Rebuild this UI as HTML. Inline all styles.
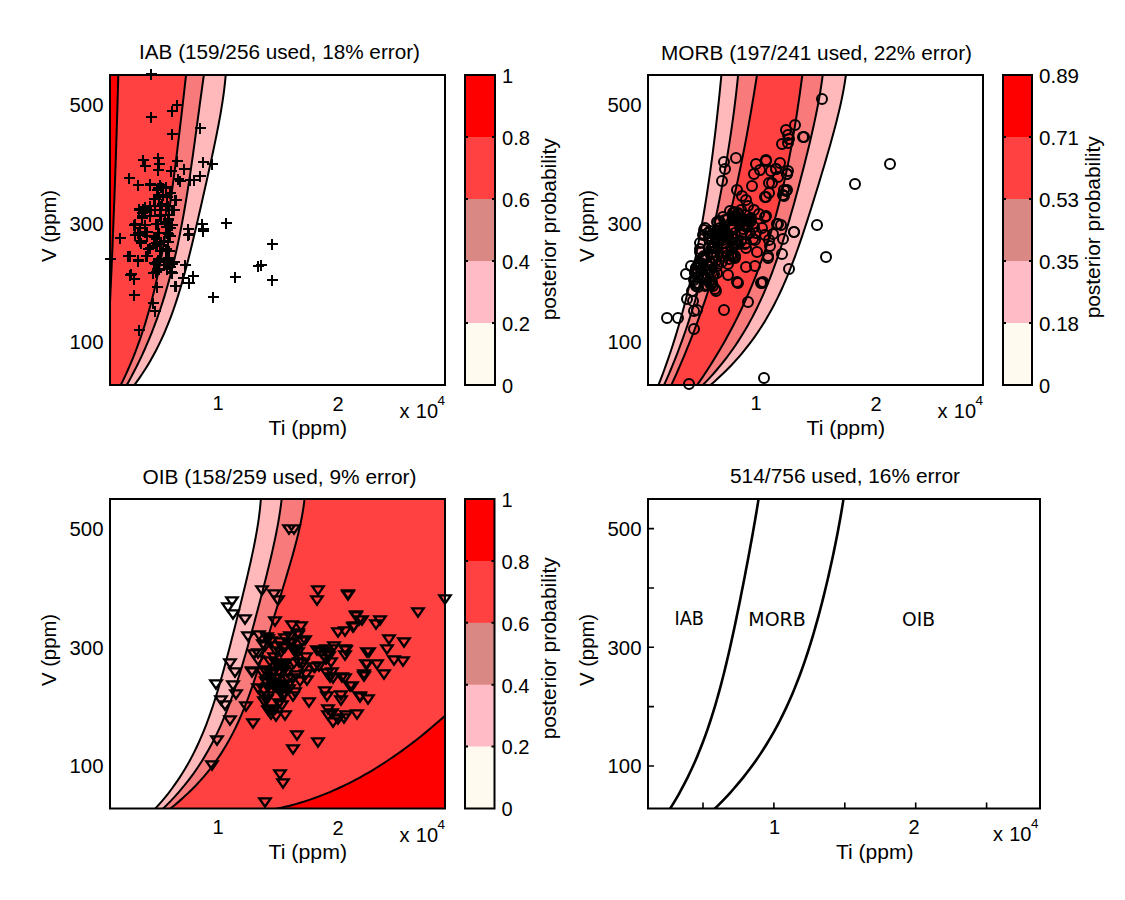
<!DOCTYPE html><html><head><meta charset="utf-8"><style>html,body{margin:0;padding:0;background:#fff;}svg{display:block}text{font-family:"Liberation Sans",Arial,sans-serif;font-size:20px;fill:#000}</style></head><body>
<svg width="1125" height="900" viewBox="0 0 1125 900">
<rect width="1125" height="900" fill="#fff"/>
<defs>
<clipPath id="c1"><rect x="110" y="75" width="335" height="310"/></clipPath>
<clipPath id="c2"><rect x="648" y="75" width="335" height="310"/></clipPath>
<clipPath id="c3"><rect x="110" y="499" width="335" height="309.5"/></clipPath>
<clipPath id="c4"><rect x="648" y="499" width="392" height="309.5"/></clipPath>
</defs>
<g clip-path="url(#c1)">
<rect x="110" y="75" width="335" height="310" fill="#fff"/>
<polygon points="90.00,70.00 226.08,70.00 225.79,74.05 225.44,78.10 225.04,82.15 224.60,86.20 224.11,90.25 223.57,94.30 223.00,98.35 222.40,102.41 221.76,106.46 221.09,110.51 220.39,114.56 219.66,118.61 218.92,122.66 218.15,126.71 217.36,130.76 216.56,134.81 215.74,138.86 214.90,142.91 214.06,146.96 213.20,151.01 212.33,155.06 211.46,159.11 210.58,163.16 209.69,167.22 208.79,171.27 207.90,175.32 206.99,179.37 206.09,183.42 205.18,187.47 204.27,191.52 203.35,195.57 202.43,199.62 201.51,203.67 200.59,207.72 199.66,211.77 198.74,215.82 197.80,219.87 196.86,223.92 195.92,227.97 194.97,232.03 194.01,236.08 193.04,240.13 192.07,244.18 191.08,248.23 190.08,252.28 189.07,256.33 188.04,260.38 186.99,264.43 185.92,268.48 184.83,272.53 183.72,276.58 182.58,280.63 181.42,284.68 180.22,288.73 178.99,292.78 177.72,296.84 176.41,300.89 175.07,304.94 173.67,308.99 172.23,313.04 170.74,317.09 169.19,321.14 167.58,325.19 165.91,329.24 164.18,333.29 162.37,337.34 160.49,341.39 158.54,345.44 156.50,349.49 154.37,353.54 152.16,357.59 149.84,361.65 147.43,365.70 144.91,369.75 142.29,373.80 139.54,377.85 136.68,381.90 133.69,385.95 130.57,390.00 90.00,390.00" fill="#ffb9ba"/>
<polygon points="90.00,70.00 204.60,70.00 204.02,74.05 203.44,78.10 202.87,82.15 202.30,86.20 201.74,90.25 201.18,94.30 200.62,98.35 200.07,102.41 199.52,106.46 198.97,110.51 198.42,114.56 197.87,118.61 197.33,122.66 196.78,126.71 196.23,130.76 195.68,134.81 195.13,138.86 194.58,142.91 194.02,146.96 193.46,151.01 192.90,155.06 192.32,159.11 191.75,163.16 191.16,167.22 190.57,171.27 189.97,175.32 189.37,179.37 188.75,183.42 188.12,187.47 187.48,191.52 186.83,195.57 186.17,199.62 185.49,203.67 184.80,207.72 184.10,211.77 183.38,215.82 182.64,219.87 181.88,223.92 181.11,227.97 180.31,232.03 179.50,236.08 178.67,240.13 177.81,244.18 176.93,248.23 176.03,252.28 175.10,256.33 174.15,260.38 173.17,264.43 172.16,268.48 171.13,272.53 170.06,276.58 168.97,280.63 167.84,284.68 166.68,288.73 165.49,292.78 164.26,296.84 163.00,300.89 161.69,304.94 160.36,308.99 158.98,313.04 157.56,317.09 156.10,321.14 154.60,325.19 153.05,329.24 151.46,333.29 149.83,337.34 148.15,341.39 146.42,345.44 144.64,349.49 142.80,353.54 140.92,357.59 138.99,361.65 137.00,365.70 134.95,369.75 132.85,373.80 130.69,377.85 128.47,381.90 126.18,385.95 123.84,390.00 90.00,390.00" fill="#f87a7a"/>
<polygon points="90.00,70.00 186.58,70.00 186.14,74.05 185.69,78.10 185.24,82.15 184.79,86.20 184.33,90.25 183.87,94.30 183.41,98.35 182.95,102.41 182.48,106.46 182.01,110.51 181.54,114.56 181.06,118.61 180.58,122.66 180.10,126.71 179.62,130.76 179.13,134.81 178.64,138.86 178.15,142.91 177.66,146.96 177.16,151.01 176.65,155.06 176.14,159.11 175.63,163.16 175.12,167.22 174.59,171.27 174.07,175.32 173.53,179.37 172.99,183.42 172.45,187.47 171.89,191.52 171.33,195.57 170.76,199.62 170.18,203.67 169.59,207.72 168.99,211.77 168.38,215.82 167.76,219.87 167.13,223.92 166.48,227.97 165.82,232.03 165.14,236.08 164.45,240.13 163.75,244.18 163.02,248.23 162.28,252.28 161.52,256.33 160.74,260.38 159.94,264.43 159.11,268.48 158.27,272.53 157.40,276.58 156.50,280.63 155.58,284.68 154.63,288.73 153.66,292.78 152.65,296.84 151.62,300.89 150.55,304.94 149.44,308.99 148.31,313.04 147.13,317.09 145.92,321.14 144.68,325.19 143.39,329.24 142.06,333.29 140.68,337.34 139.26,341.39 137.80,345.44 136.29,349.49 134.73,353.54 133.12,357.59 131.46,361.65 129.74,365.70 127.97,369.75 126.14,373.80 124.25,377.85 122.30,381.90 120.29,385.95 118.21,390.00 90.00,390.00" fill="#ff4141"/>
<polygon points="90.00,70.00 118.42,70.00 118.32,74.05 118.21,78.10 118.10,82.15 117.99,86.20 117.88,90.25 117.77,94.30 117.65,98.35 117.54,102.41 117.42,106.46 117.30,110.51 117.18,114.56 117.06,118.61 116.94,122.66 116.81,126.71 116.68,130.76 116.56,134.81 116.43,138.86 116.30,142.91 116.17,146.96 116.03,151.01 115.90,155.06 115.76,159.11 115.62,163.16 115.48,167.22 115.34,171.27 115.20,175.32 115.06,179.37 114.91,183.42 114.77,187.47 114.62,191.52 114.47,195.57 114.32,199.62 114.17,203.67 114.01,207.72 113.86,211.77 113.70,215.82 113.54,219.87 113.38,223.92 113.22,227.97 113.06,232.03 112.90,236.08 112.73,240.13 112.57,244.18 112.40,248.23 112.23,252.28 112.06,256.33 111.88,260.38 111.71,264.43 111.53,268.48 111.36,272.53 111.18,276.58 111.00,280.63 110.82,284.68 110.64,288.73 110.45,292.78 110.27,296.84 110.08,300.89 109.89,304.94 109.70,308.99 109.51,313.04 109.32,317.09 109.12,321.14 108.93,325.19 108.73,329.24 108.53,333.29 108.33,337.34 108.13,341.39 107.93,345.44 107.72,349.49 107.51,353.54 107.31,357.59 107.10,361.65 106.89,365.70 106.68,369.75 106.46,373.80 106.25,377.85 106.03,381.90 105.81,385.95 105.60,390.00 90.00,390.00" fill="#ff0000"/>
<polyline points="118.42,70.00 118.32,74.05 118.21,78.10 118.10,82.15 117.99,86.20 117.88,90.25 117.77,94.30 117.65,98.35 117.54,102.41 117.42,106.46 117.30,110.51 117.18,114.56 117.06,118.61 116.94,122.66 116.81,126.71 116.68,130.76 116.56,134.81 116.43,138.86 116.30,142.91 116.17,146.96 116.03,151.01 115.90,155.06 115.76,159.11 115.62,163.16 115.48,167.22 115.34,171.27 115.20,175.32 115.06,179.37 114.91,183.42 114.77,187.47 114.62,191.52 114.47,195.57 114.32,199.62 114.17,203.67 114.01,207.72 113.86,211.77 113.70,215.82 113.54,219.87 113.38,223.92 113.22,227.97 113.06,232.03 112.90,236.08 112.73,240.13 112.57,244.18 112.40,248.23 112.23,252.28 112.06,256.33 111.88,260.38 111.71,264.43 111.53,268.48 111.36,272.53 111.18,276.58 111.00,280.63 110.82,284.68 110.64,288.73 110.45,292.78 110.27,296.84 110.08,300.89 109.89,304.94 109.70,308.99 109.51,313.04 109.32,317.09 109.12,321.14 108.93,325.19 108.73,329.24 108.53,333.29 108.33,337.34 108.13,341.39 107.93,345.44 107.72,349.49 107.51,353.54 107.31,357.59 107.10,361.65 106.89,365.70 106.68,369.75 106.46,373.80 106.25,377.85 106.03,381.90 105.81,385.95 105.60,390.00" fill="none" stroke="#000" stroke-width="2"/>
<polyline points="186.58,70.00 186.14,74.05 185.69,78.10 185.24,82.15 184.79,86.20 184.33,90.25 183.87,94.30 183.41,98.35 182.95,102.41 182.48,106.46 182.01,110.51 181.54,114.56 181.06,118.61 180.58,122.66 180.10,126.71 179.62,130.76 179.13,134.81 178.64,138.86 178.15,142.91 177.66,146.96 177.16,151.01 176.65,155.06 176.14,159.11 175.63,163.16 175.12,167.22 174.59,171.27 174.07,175.32 173.53,179.37 172.99,183.42 172.45,187.47 171.89,191.52 171.33,195.57 170.76,199.62 170.18,203.67 169.59,207.72 168.99,211.77 168.38,215.82 167.76,219.87 167.13,223.92 166.48,227.97 165.82,232.03 165.14,236.08 164.45,240.13 163.75,244.18 163.02,248.23 162.28,252.28 161.52,256.33 160.74,260.38 159.94,264.43 159.11,268.48 158.27,272.53 157.40,276.58 156.50,280.63 155.58,284.68 154.63,288.73 153.66,292.78 152.65,296.84 151.62,300.89 150.55,304.94 149.44,308.99 148.31,313.04 147.13,317.09 145.92,321.14 144.68,325.19 143.39,329.24 142.06,333.29 140.68,337.34 139.26,341.39 137.80,345.44 136.29,349.49 134.73,353.54 133.12,357.59 131.46,361.65 129.74,365.70 127.97,369.75 126.14,373.80 124.25,377.85 122.30,381.90 120.29,385.95 118.21,390.00" fill="none" stroke="#000" stroke-width="2"/>
<polyline points="204.60,70.00 204.02,74.05 203.44,78.10 202.87,82.15 202.30,86.20 201.74,90.25 201.18,94.30 200.62,98.35 200.07,102.41 199.52,106.46 198.97,110.51 198.42,114.56 197.87,118.61 197.33,122.66 196.78,126.71 196.23,130.76 195.68,134.81 195.13,138.86 194.58,142.91 194.02,146.96 193.46,151.01 192.90,155.06 192.32,159.11 191.75,163.16 191.16,167.22 190.57,171.27 189.97,175.32 189.37,179.37 188.75,183.42 188.12,187.47 187.48,191.52 186.83,195.57 186.17,199.62 185.49,203.67 184.80,207.72 184.10,211.77 183.38,215.82 182.64,219.87 181.88,223.92 181.11,227.97 180.31,232.03 179.50,236.08 178.67,240.13 177.81,244.18 176.93,248.23 176.03,252.28 175.10,256.33 174.15,260.38 173.17,264.43 172.16,268.48 171.13,272.53 170.06,276.58 168.97,280.63 167.84,284.68 166.68,288.73 165.49,292.78 164.26,296.84 163.00,300.89 161.69,304.94 160.36,308.99 158.98,313.04 157.56,317.09 156.10,321.14 154.60,325.19 153.05,329.24 151.46,333.29 149.83,337.34 148.15,341.39 146.42,345.44 144.64,349.49 142.80,353.54 140.92,357.59 138.99,361.65 137.00,365.70 134.95,369.75 132.85,373.80 130.69,377.85 128.47,381.90 126.18,385.95 123.84,390.00" fill="none" stroke="#000" stroke-width="2"/>
<polyline points="226.08,70.00 225.79,74.05 225.44,78.10 225.04,82.15 224.60,86.20 224.11,90.25 223.57,94.30 223.00,98.35 222.40,102.41 221.76,106.46 221.09,110.51 220.39,114.56 219.66,118.61 218.92,122.66 218.15,126.71 217.36,130.76 216.56,134.81 215.74,138.86 214.90,142.91 214.06,146.96 213.20,151.01 212.33,155.06 211.46,159.11 210.58,163.16 209.69,167.22 208.79,171.27 207.90,175.32 206.99,179.37 206.09,183.42 205.18,187.47 204.27,191.52 203.35,195.57 202.43,199.62 201.51,203.67 200.59,207.72 199.66,211.77 198.74,215.82 197.80,219.87 196.86,223.92 195.92,227.97 194.97,232.03 194.01,236.08 193.04,240.13 192.07,244.18 191.08,248.23 190.08,252.28 189.07,256.33 188.04,260.38 186.99,264.43 185.92,268.48 184.83,272.53 183.72,276.58 182.58,280.63 181.42,284.68 180.22,288.73 178.99,292.78 177.72,296.84 176.41,300.89 175.07,304.94 173.67,308.99 172.23,313.04 170.74,317.09 169.19,321.14 167.58,325.19 165.91,329.24 164.18,333.29 162.37,337.34 160.49,341.39 158.54,345.44 156.50,349.49 154.37,353.54 152.16,357.59 149.84,361.65 147.43,365.70 144.91,369.75 142.29,373.80 139.54,377.85 136.68,381.90 133.69,385.95 130.57,390.00" fill="none" stroke="#000" stroke-width="2"/>
</g>
<g clip-path="url(#c2)">
<rect x="648" y="75" width="335" height="310" fill="#fff"/>
<polygon points="721.85,70.00 721.47,74.05 721.09,78.10 720.70,82.15 720.30,86.20 719.90,90.25 719.49,94.30 719.07,98.35 718.64,102.41 718.21,106.46 717.77,110.51 717.33,114.56 716.87,118.61 716.41,122.66 715.95,126.71 715.47,130.76 714.99,134.81 714.50,138.86 714.00,142.91 713.49,146.96 712.97,151.01 712.45,155.06 711.91,159.11 711.37,163.16 710.82,167.22 710.26,171.27 709.69,175.32 709.10,179.37 708.51,183.42 707.91,187.47 707.30,191.52 706.67,195.57 706.04,199.62 705.39,203.67 704.73,207.72 704.06,211.77 703.38,215.82 702.68,219.87 701.97,223.92 701.25,227.97 700.51,232.03 699.76,236.08 698.99,240.13 698.21,244.18 697.42,248.23 696.60,252.28 695.78,256.33 694.93,260.38 694.07,264.43 693.19,268.48 692.30,272.53 691.38,276.58 690.45,280.63 689.50,284.68 688.53,288.73 687.54,292.78 686.53,296.84 685.50,300.89 684.44,304.94 683.37,308.99 682.27,313.04 681.15,317.09 680.01,321.14 678.84,325.19 677.65,329.24 676.44,333.29 675.20,337.34 673.93,341.39 672.63,345.44 671.31,349.49 669.97,353.54 668.59,357.59 667.18,361.65 665.75,365.70 664.28,369.75 662.79,373.80 661.26,377.85 659.70,381.90 658.11,385.95 656.49,390.00 704.51,390.00 709.38,385.95 714.06,381.90 718.54,377.85 722.84,373.80 726.95,369.75 730.90,365.70 734.68,361.65 738.30,357.59 741.78,353.54 745.11,349.49 748.30,345.44 751.37,341.39 754.30,337.34 757.12,333.29 759.83,329.24 762.43,325.19 764.93,321.14 767.33,317.09 769.65,313.04 771.87,308.99 774.02,304.94 776.09,300.89 778.09,296.84 780.02,292.78 781.89,288.73 783.70,284.68 785.46,280.63 787.16,276.58 788.82,272.53 790.44,268.48 792.01,264.43 793.55,260.38 795.06,256.33 796.53,252.28 797.97,248.23 799.39,244.18 800.79,240.13 802.16,236.08 803.52,232.03 804.86,227.97 806.18,223.92 807.49,219.87 808.79,215.82 810.07,211.77 811.35,207.72 812.61,203.67 813.87,199.62 815.13,195.57 816.37,191.52 817.61,187.47 818.84,183.42 820.06,179.37 821.28,175.32 822.50,171.27 823.70,167.22 824.90,163.16 826.09,159.11 827.26,155.06 828.43,151.01 829.59,146.96 830.73,142.91 831.86,138.86 832.97,134.81 834.07,130.76 835.14,126.71 836.19,122.66 837.22,118.61 838.21,114.56 839.18,110.51 840.12,106.46 841.02,102.41 841.88,98.35 842.70,94.30 843.47,90.25 844.19,86.20 844.86,82.15 845.48,78.10 846.03,74.05 846.52,70.00" fill="#ffb9ba"/>
<polygon points="738.56,70.00 738.18,74.05 737.79,78.10 737.37,82.15 736.94,86.20 736.50,90.25 736.04,94.30 735.56,98.35 735.07,102.41 734.57,106.46 734.05,110.51 733.52,114.56 732.97,118.61 732.41,122.66 731.84,126.71 731.25,130.76 730.65,134.81 730.04,138.86 729.42,142.91 728.79,146.96 728.14,151.01 727.48,155.06 726.81,159.11 726.13,163.16 725.44,167.22 724.73,171.27 724.01,175.32 723.28,179.37 722.54,183.42 721.79,187.47 721.03,191.52 720.25,195.57 719.46,199.62 718.66,203.67 717.85,207.72 717.02,211.77 716.18,215.82 715.33,219.87 714.47,223.92 713.59,227.97 712.70,232.03 711.79,236.08 710.87,240.13 709.94,244.18 708.99,248.23 708.02,252.28 707.04,256.33 706.04,260.38 705.02,264.43 703.99,268.48 702.94,272.53 701.87,276.58 700.78,280.63 699.67,284.68 698.55,288.73 697.40,292.78 696.23,296.84 695.04,300.89 693.82,304.94 692.59,308.99 691.33,313.04 690.04,317.09 688.73,321.14 687.39,325.19 686.03,329.24 684.64,333.29 683.22,337.34 681.77,341.39 680.28,345.44 678.77,349.49 677.23,353.54 675.65,357.59 674.04,361.65 672.40,365.70 670.72,369.75 669.00,373.80 667.24,377.85 665.45,381.90 663.61,385.95 661.74,390.00 697.82,390.00 701.92,385.95 705.88,381.90 709.68,377.85 713.34,373.80 716.86,369.75 720.25,365.70 723.52,361.65 726.66,357.59 729.68,353.54 732.59,349.49 735.40,345.44 738.10,341.39 740.70,337.34 743.20,333.29 745.62,329.24 747.95,325.19 750.20,321.14 752.37,317.09 754.47,313.04 756.50,308.99 758.46,304.94 760.35,300.89 762.19,296.84 763.97,292.78 765.70,288.73 767.37,284.68 769.00,280.63 770.58,276.58 772.12,272.53 773.63,268.48 775.09,264.43 776.52,260.38 777.92,256.33 779.29,252.28 780.63,248.23 781.94,244.18 783.23,240.13 784.50,236.08 785.74,232.03 786.97,227.97 788.18,223.92 789.37,219.87 790.54,215.82 791.70,211.77 792.85,207.72 793.99,203.67 795.11,199.62 796.22,195.57 797.32,191.52 798.41,187.47 799.49,183.42 800.56,179.37 801.62,175.32 802.67,171.27 803.71,167.22 804.74,163.16 805.76,159.11 806.77,155.06 807.76,151.01 808.75,146.96 809.71,142.91 810.67,138.86 811.61,134.81 812.53,130.76 813.44,126.71 814.32,122.66 815.19,118.61 816.03,114.56 816.85,110.51 817.65,106.46 818.42,102.41 819.15,98.35 819.86,94.30 820.53,90.25 821.16,86.20 821.76,82.15 822.32,78.10 822.83,74.05 823.29,70.00" fill="#f87a7a"/>
<polygon points="757.76,70.00 757.13,74.05 756.49,78.10 755.85,82.15 755.20,86.20 754.54,90.25 753.88,94.30 753.21,98.35 752.53,102.41 751.85,106.46 751.16,110.51 750.46,114.56 749.75,118.61 749.03,122.66 748.31,126.71 747.58,130.76 746.83,134.81 746.08,138.86 745.32,142.91 744.54,146.96 743.76,151.01 742.97,155.06 742.16,159.11 741.35,163.16 740.52,167.22 739.68,171.27 738.83,175.32 737.96,179.37 737.09,183.42 736.20,187.47 735.29,191.52 734.38,195.57 733.45,199.62 732.50,203.67 731.55,207.72 730.57,211.77 729.58,215.82 728.58,219.87 727.56,223.92 726.53,227.97 725.48,232.03 724.41,236.08 723.33,240.13 722.22,244.18 721.11,248.23 719.97,252.28 718.82,256.33 717.65,260.38 716.46,264.43 715.25,268.48 714.02,272.53 712.78,276.58 711.51,280.63 710.23,284.68 708.92,288.73 707.60,292.78 706.25,296.84 704.89,300.89 703.50,304.94 702.09,308.99 700.66,313.04 699.20,317.09 697.73,321.14 696.23,325.19 694.71,329.24 693.17,333.29 691.60,337.34 690.01,341.39 688.40,345.44 686.76,349.49 685.10,353.54 683.41,357.59 681.70,361.65 679.96,365.70 678.19,369.75 676.40,373.80 674.59,377.85 672.75,381.90 670.88,385.95 668.98,390.00 693.65,390.00 696.53,385.95 699.34,381.90 702.11,377.85 704.82,373.80 707.47,369.75 710.08,365.70 712.63,361.65 715.14,357.59 717.59,353.54 719.99,349.49 722.35,345.44 724.66,341.39 726.92,337.34 729.13,333.29 731.30,329.24 733.42,325.19 735.49,321.14 737.52,317.09 739.51,313.04 741.46,308.99 743.36,304.94 745.22,300.89 747.04,296.84 748.82,292.78 750.56,288.73 752.26,284.68 753.92,280.63 755.55,276.58 757.13,272.53 758.68,268.48 760.20,264.43 761.67,260.38 763.12,256.33 764.53,252.28 765.90,248.23 767.25,244.18 768.56,240.13 769.84,236.08 771.09,232.03 772.31,227.97 773.49,223.92 774.65,219.87 775.79,215.82 776.89,211.77 777.97,207.72 779.02,203.67 780.04,199.62 781.04,195.57 782.02,191.52 782.97,187.47 783.89,183.42 784.80,179.37 785.68,175.32 786.54,171.27 787.39,167.22 788.21,163.16 789.01,159.11 789.79,155.06 790.56,151.01 791.30,146.96 792.03,142.91 792.75,138.86 793.45,134.81 794.13,130.76 794.80,126.71 795.45,122.66 796.10,118.61 796.73,114.56 797.35,110.51 797.95,106.46 798.55,102.41 799.14,98.35 799.72,94.30 800.28,90.25 800.85,86.20 801.40,82.15 801.95,78.10 802.49,74.05 803.02,70.00" fill="#ff4141"/>
<polyline points="721.85,70.00 721.47,74.05 721.09,78.10 720.70,82.15 720.30,86.20 719.90,90.25 719.49,94.30 719.07,98.35 718.64,102.41 718.21,106.46 717.77,110.51 717.33,114.56 716.87,118.61 716.41,122.66 715.95,126.71 715.47,130.76 714.99,134.81 714.50,138.86 714.00,142.91 713.49,146.96 712.97,151.01 712.45,155.06 711.91,159.11 711.37,163.16 710.82,167.22 710.26,171.27 709.69,175.32 709.10,179.37 708.51,183.42 707.91,187.47 707.30,191.52 706.67,195.57 706.04,199.62 705.39,203.67 704.73,207.72 704.06,211.77 703.38,215.82 702.68,219.87 701.97,223.92 701.25,227.97 700.51,232.03 699.76,236.08 698.99,240.13 698.21,244.18 697.42,248.23 696.60,252.28 695.78,256.33 694.93,260.38 694.07,264.43 693.19,268.48 692.30,272.53 691.38,276.58 690.45,280.63 689.50,284.68 688.53,288.73 687.54,292.78 686.53,296.84 685.50,300.89 684.44,304.94 683.37,308.99 682.27,313.04 681.15,317.09 680.01,321.14 678.84,325.19 677.65,329.24 676.44,333.29 675.20,337.34 673.93,341.39 672.63,345.44 671.31,349.49 669.97,353.54 668.59,357.59 667.18,361.65 665.75,365.70 664.28,369.75 662.79,373.80 661.26,377.85 659.70,381.90 658.11,385.95 656.49,390.00" fill="none" stroke="#000" stroke-width="2"/>
<polyline points="738.56,70.00 738.18,74.05 737.79,78.10 737.37,82.15 736.94,86.20 736.50,90.25 736.04,94.30 735.56,98.35 735.07,102.41 734.57,106.46 734.05,110.51 733.52,114.56 732.97,118.61 732.41,122.66 731.84,126.71 731.25,130.76 730.65,134.81 730.04,138.86 729.42,142.91 728.79,146.96 728.14,151.01 727.48,155.06 726.81,159.11 726.13,163.16 725.44,167.22 724.73,171.27 724.01,175.32 723.28,179.37 722.54,183.42 721.79,187.47 721.03,191.52 720.25,195.57 719.46,199.62 718.66,203.67 717.85,207.72 717.02,211.77 716.18,215.82 715.33,219.87 714.47,223.92 713.59,227.97 712.70,232.03 711.79,236.08 710.87,240.13 709.94,244.18 708.99,248.23 708.02,252.28 707.04,256.33 706.04,260.38 705.02,264.43 703.99,268.48 702.94,272.53 701.87,276.58 700.78,280.63 699.67,284.68 698.55,288.73 697.40,292.78 696.23,296.84 695.04,300.89 693.82,304.94 692.59,308.99 691.33,313.04 690.04,317.09 688.73,321.14 687.39,325.19 686.03,329.24 684.64,333.29 683.22,337.34 681.77,341.39 680.28,345.44 678.77,349.49 677.23,353.54 675.65,357.59 674.04,361.65 672.40,365.70 670.72,369.75 669.00,373.80 667.24,377.85 665.45,381.90 663.61,385.95 661.74,390.00" fill="none" stroke="#000" stroke-width="2"/>
<polyline points="757.76,70.00 757.13,74.05 756.49,78.10 755.85,82.15 755.20,86.20 754.54,90.25 753.88,94.30 753.21,98.35 752.53,102.41 751.85,106.46 751.16,110.51 750.46,114.56 749.75,118.61 749.03,122.66 748.31,126.71 747.58,130.76 746.83,134.81 746.08,138.86 745.32,142.91 744.54,146.96 743.76,151.01 742.97,155.06 742.16,159.11 741.35,163.16 740.52,167.22 739.68,171.27 738.83,175.32 737.96,179.37 737.09,183.42 736.20,187.47 735.29,191.52 734.38,195.57 733.45,199.62 732.50,203.67 731.55,207.72 730.57,211.77 729.58,215.82 728.58,219.87 727.56,223.92 726.53,227.97 725.48,232.03 724.41,236.08 723.33,240.13 722.22,244.18 721.11,248.23 719.97,252.28 718.82,256.33 717.65,260.38 716.46,264.43 715.25,268.48 714.02,272.53 712.78,276.58 711.51,280.63 710.23,284.68 708.92,288.73 707.60,292.78 706.25,296.84 704.89,300.89 703.50,304.94 702.09,308.99 700.66,313.04 699.20,317.09 697.73,321.14 696.23,325.19 694.71,329.24 693.17,333.29 691.60,337.34 690.01,341.39 688.40,345.44 686.76,349.49 685.10,353.54 683.41,357.59 681.70,361.65 679.96,365.70 678.19,369.75 676.40,373.80 674.59,377.85 672.75,381.90 670.88,385.95 668.98,390.00" fill="none" stroke="#000" stroke-width="2"/>
<polyline points="803.02,70.00 802.49,74.05 801.95,78.10 801.40,82.15 800.85,86.20 800.28,90.25 799.72,94.30 799.14,98.35 798.55,102.41 797.95,106.46 797.35,110.51 796.73,114.56 796.10,118.61 795.45,122.66 794.80,126.71 794.13,130.76 793.45,134.81 792.75,138.86 792.03,142.91 791.30,146.96 790.56,151.01 789.79,155.06 789.01,159.11 788.21,163.16 787.39,167.22 786.54,171.27 785.68,175.32 784.80,179.37 783.89,183.42 782.97,187.47 782.02,191.52 781.04,195.57 780.04,199.62 779.02,203.67 777.97,207.72 776.89,211.77 775.79,215.82 774.65,219.87 773.49,223.92 772.31,227.97 771.09,232.03 769.84,236.08 768.56,240.13 767.25,244.18 765.90,248.23 764.53,252.28 763.12,256.33 761.67,260.38 760.20,264.43 758.68,268.48 757.13,272.53 755.55,276.58 753.92,280.63 752.26,284.68 750.56,288.73 748.82,292.78 747.04,296.84 745.22,300.89 743.36,304.94 741.46,308.99 739.51,313.04 737.52,317.09 735.49,321.14 733.42,325.19 731.30,329.24 729.13,333.29 726.92,337.34 724.66,341.39 722.35,345.44 719.99,349.49 717.59,353.54 715.14,357.59 712.63,361.65 710.08,365.70 707.47,369.75 704.82,373.80 702.11,377.85 699.34,381.90 696.53,385.95 693.65,390.00" fill="none" stroke="#000" stroke-width="2"/>
<polyline points="823.29,70.00 822.83,74.05 822.32,78.10 821.76,82.15 821.16,86.20 820.53,90.25 819.86,94.30 819.15,98.35 818.42,102.41 817.65,106.46 816.85,110.51 816.03,114.56 815.19,118.61 814.32,122.66 813.44,126.71 812.53,130.76 811.61,134.81 810.67,138.86 809.71,142.91 808.75,146.96 807.76,151.01 806.77,155.06 805.76,159.11 804.74,163.16 803.71,167.22 802.67,171.27 801.62,175.32 800.56,179.37 799.49,183.42 798.41,187.47 797.32,191.52 796.22,195.57 795.11,199.62 793.99,203.67 792.85,207.72 791.70,211.77 790.54,215.82 789.37,219.87 788.18,223.92 786.97,227.97 785.74,232.03 784.50,236.08 783.23,240.13 781.94,244.18 780.63,248.23 779.29,252.28 777.92,256.33 776.52,260.38 775.09,264.43 773.63,268.48 772.12,272.53 770.58,276.58 769.00,280.63 767.37,284.68 765.70,288.73 763.97,292.78 762.19,296.84 760.35,300.89 758.46,304.94 756.50,308.99 754.47,313.04 752.37,317.09 750.20,321.14 747.95,325.19 745.62,329.24 743.20,333.29 740.70,337.34 738.10,341.39 735.40,345.44 732.59,349.49 729.68,353.54 726.66,357.59 723.52,361.65 720.25,365.70 716.86,369.75 713.34,373.80 709.68,377.85 705.88,381.90 701.92,385.95 697.82,390.00" fill="none" stroke="#000" stroke-width="2"/>
<polyline points="846.52,70.00 846.03,74.05 845.48,78.10 844.86,82.15 844.19,86.20 843.47,90.25 842.70,94.30 841.88,98.35 841.02,102.41 840.12,106.46 839.18,110.51 838.21,114.56 837.22,118.61 836.19,122.66 835.14,126.71 834.07,130.76 832.97,134.81 831.86,138.86 830.73,142.91 829.59,146.96 828.43,151.01 827.26,155.06 826.09,159.11 824.90,163.16 823.70,167.22 822.50,171.27 821.28,175.32 820.06,179.37 818.84,183.42 817.61,187.47 816.37,191.52 815.13,195.57 813.87,199.62 812.61,203.67 811.35,207.72 810.07,211.77 808.79,215.82 807.49,219.87 806.18,223.92 804.86,227.97 803.52,232.03 802.16,236.08 800.79,240.13 799.39,244.18 797.97,248.23 796.53,252.28 795.06,256.33 793.55,260.38 792.01,264.43 790.44,268.48 788.82,272.53 787.16,276.58 785.46,280.63 783.70,284.68 781.89,288.73 780.02,292.78 778.09,296.84 776.09,300.89 774.02,304.94 771.87,308.99 769.65,313.04 767.33,317.09 764.93,321.14 762.43,325.19 759.83,329.24 757.12,333.29 754.30,337.34 751.37,341.39 748.30,345.44 745.11,349.49 741.78,353.54 738.30,357.59 734.68,361.65 730.90,365.70 726.95,369.75 722.84,373.80 718.54,377.85 714.06,381.90 709.38,385.95 704.51,390.00" fill="none" stroke="#000" stroke-width="2"/>
</g>
<g clip-path="url(#c3)">
<rect x="110" y="499" width="335" height="309.5" fill="#fff"/>
<polygon points="261.15,494.00 260.92,498.04 260.61,502.09 260.24,506.13 259.82,510.18 259.33,514.22 258.80,518.27 258.21,522.31 257.58,526.35 256.91,530.40 256.21,534.44 255.46,538.49 254.69,542.53 253.88,546.58 253.05,550.62 252.20,554.66 251.32,558.71 250.43,562.75 249.51,566.80 248.59,570.84 247.64,574.89 246.69,578.93 245.73,582.97 244.76,587.02 243.77,591.06 242.79,595.11 241.79,599.15 240.80,603.20 239.79,607.24 238.79,611.28 237.78,615.33 236.76,619.37 235.75,623.42 234.73,627.46 233.70,631.51 232.67,635.55 231.64,639.59 230.60,643.64 229.56,647.68 228.50,651.73 227.44,655.77 226.37,659.82 225.29,663.86 224.19,667.91 223.08,671.95 221.96,675.99 220.81,680.04 219.65,684.08 218.46,688.13 217.24,692.17 216.00,696.22 214.73,700.26 213.42,704.30 212.08,708.35 210.69,712.39 209.27,716.44 207.79,720.48 206.27,724.53 204.69,728.57 203.05,732.61 201.35,736.66 199.58,740.70 197.74,744.75 195.83,748.79 193.83,752.84 191.76,756.88 189.59,760.92 187.32,764.97 184.96,769.01 182.48,773.06 179.90,777.10 177.20,781.15 174.38,785.19 171.43,789.23 168.34,793.28 165.11,797.32 161.73,801.37 158.20,805.41 154.51,809.46 150.65,813.50 465.00,813.50 465.00,494.00" fill="#ffb9ba"/>
<polygon points="282.16,494.00 281.76,498.04 281.30,502.09 280.79,506.13 280.23,510.18 279.61,514.22 278.96,518.27 278.26,522.31 277.52,526.35 276.75,530.40 275.95,534.44 275.12,538.49 274.26,542.53 273.37,546.58 272.47,550.62 271.54,554.66 270.60,558.71 269.63,562.75 268.66,566.80 267.67,570.84 266.67,574.89 265.66,578.93 264.64,582.97 263.61,587.02 262.57,591.06 261.52,595.11 260.47,599.15 259.42,603.20 258.35,607.24 257.29,611.28 256.21,615.33 255.13,619.37 254.05,623.42 252.95,627.46 251.85,631.51 250.75,635.55 249.63,639.59 248.50,643.64 247.37,647.68 246.22,651.73 245.05,655.77 243.88,659.82 242.68,663.86 241.47,667.91 240.23,671.95 238.97,675.99 237.69,680.04 236.38,684.08 235.04,688.13 233.66,692.17 232.25,696.22 230.80,700.26 229.31,704.30 227.78,708.35 226.19,712.39 224.56,716.44 222.86,720.48 221.11,724.53 219.29,728.57 217.41,732.61 215.45,736.66 213.42,740.70 211.31,744.75 209.11,748.79 206.82,752.84 204.43,756.88 201.94,760.92 199.35,764.97 196.65,769.01 193.83,773.06 190.88,777.10 187.81,781.15 184.61,785.19 181.26,789.23 177.77,793.28 174.12,797.32 170.32,801.37 166.34,805.41 162.20,809.46 157.87,813.50 465.00,813.50 465.00,494.00" fill="#f87a7a"/>
<polygon points="304.97,494.00 304.61,498.04 304.17,502.09 303.64,506.13 303.03,510.18 302.35,514.22 301.61,518.27 300.81,522.31 299.95,526.35 299.04,530.40 298.08,534.44 297.08,538.49 296.05,542.53 294.98,546.58 293.88,550.62 292.76,554.66 291.61,558.71 290.45,562.75 289.27,566.80 288.07,570.84 286.86,574.89 285.65,578.93 284.42,582.97 283.20,587.02 281.96,591.06 280.73,595.11 279.49,599.15 278.26,603.20 277.02,607.24 275.79,611.28 274.56,615.33 273.33,619.37 272.10,623.42 270.87,627.46 269.64,631.51 268.41,635.55 267.19,639.59 265.96,643.64 264.72,647.68 263.48,651.73 262.23,655.77 260.98,659.82 259.71,663.86 258.43,667.91 257.13,671.95 255.81,675.99 254.47,680.04 253.10,684.08 251.70,688.13 250.27,692.17 248.80,696.22 247.29,700.26 245.73,704.30 244.12,708.35 242.46,712.39 240.73,716.44 238.94,720.48 237.08,724.53 235.13,728.57 233.11,732.61 230.99,736.66 228.78,740.70 226.47,744.75 224.04,748.79 221.50,752.84 218.84,756.88 216.04,760.92 213.11,764.97 210.03,769.01 206.79,773.06 203.39,777.10 199.82,781.15 196.06,785.19 192.12,789.23 187.97,793.28 183.62,797.32 179.05,801.37 174.25,805.41 169.22,809.46 163.93,813.50 465.00,813.50 465.00,494.00" fill="#ff4141"/>
<polygon points="270.00,809.96 273.78,809.27 277.55,808.52 281.33,807.71 285.10,806.84 288.88,805.92 292.65,804.93 296.43,803.89 300.20,802.78 303.98,801.62 307.76,800.40 311.53,799.11 315.31,797.77 319.08,796.37 322.86,794.91 326.63,793.39 330.41,791.81 334.18,790.18 337.96,788.48 341.73,786.72 345.51,784.91 349.29,783.04 353.06,781.10 356.84,779.11 360.61,777.06 364.39,774.95 368.16,772.78 371.94,770.55 375.71,768.26 379.49,765.91 383.27,763.50 387.04,761.03 390.82,758.51 394.59,755.92 398.37,753.28 402.14,750.58 405.92,747.81 409.69,744.99 413.47,742.11 417.24,739.17 421.02,736.17 424.80,733.11 428.57,729.99 432.35,726.82 436.12,723.58 439.90,720.28 443.67,716.93 447.45,713.51 451.22,710.04 455.00,706.51 465.00,828.50 270.00,828.50" fill="#ff0000"/>
<polyline points="261.15,494.00 260.92,498.04 260.61,502.09 260.24,506.13 259.82,510.18 259.33,514.22 258.80,518.27 258.21,522.31 257.58,526.35 256.91,530.40 256.21,534.44 255.46,538.49 254.69,542.53 253.88,546.58 253.05,550.62 252.20,554.66 251.32,558.71 250.43,562.75 249.51,566.80 248.59,570.84 247.64,574.89 246.69,578.93 245.73,582.97 244.76,587.02 243.77,591.06 242.79,595.11 241.79,599.15 240.80,603.20 239.79,607.24 238.79,611.28 237.78,615.33 236.76,619.37 235.75,623.42 234.73,627.46 233.70,631.51 232.67,635.55 231.64,639.59 230.60,643.64 229.56,647.68 228.50,651.73 227.44,655.77 226.37,659.82 225.29,663.86 224.19,667.91 223.08,671.95 221.96,675.99 220.81,680.04 219.65,684.08 218.46,688.13 217.24,692.17 216.00,696.22 214.73,700.26 213.42,704.30 212.08,708.35 210.69,712.39 209.27,716.44 207.79,720.48 206.27,724.53 204.69,728.57 203.05,732.61 201.35,736.66 199.58,740.70 197.74,744.75 195.83,748.79 193.83,752.84 191.76,756.88 189.59,760.92 187.32,764.97 184.96,769.01 182.48,773.06 179.90,777.10 177.20,781.15 174.38,785.19 171.43,789.23 168.34,793.28 165.11,797.32 161.73,801.37 158.20,805.41 154.51,809.46 150.65,813.50" fill="none" stroke="#000" stroke-width="2"/>
<polyline points="282.16,494.00 281.76,498.04 281.30,502.09 280.79,506.13 280.23,510.18 279.61,514.22 278.96,518.27 278.26,522.31 277.52,526.35 276.75,530.40 275.95,534.44 275.12,538.49 274.26,542.53 273.37,546.58 272.47,550.62 271.54,554.66 270.60,558.71 269.63,562.75 268.66,566.80 267.67,570.84 266.67,574.89 265.66,578.93 264.64,582.97 263.61,587.02 262.57,591.06 261.52,595.11 260.47,599.15 259.42,603.20 258.35,607.24 257.29,611.28 256.21,615.33 255.13,619.37 254.05,623.42 252.95,627.46 251.85,631.51 250.75,635.55 249.63,639.59 248.50,643.64 247.37,647.68 246.22,651.73 245.05,655.77 243.88,659.82 242.68,663.86 241.47,667.91 240.23,671.95 238.97,675.99 237.69,680.04 236.38,684.08 235.04,688.13 233.66,692.17 232.25,696.22 230.80,700.26 229.31,704.30 227.78,708.35 226.19,712.39 224.56,716.44 222.86,720.48 221.11,724.53 219.29,728.57 217.41,732.61 215.45,736.66 213.42,740.70 211.31,744.75 209.11,748.79 206.82,752.84 204.43,756.88 201.94,760.92 199.35,764.97 196.65,769.01 193.83,773.06 190.88,777.10 187.81,781.15 184.61,785.19 181.26,789.23 177.77,793.28 174.12,797.32 170.32,801.37 166.34,805.41 162.20,809.46 157.87,813.50" fill="none" stroke="#000" stroke-width="2"/>
<polyline points="304.97,494.00 304.61,498.04 304.17,502.09 303.64,506.13 303.03,510.18 302.35,514.22 301.61,518.27 300.81,522.31 299.95,526.35 299.04,530.40 298.08,534.44 297.08,538.49 296.05,542.53 294.98,546.58 293.88,550.62 292.76,554.66 291.61,558.71 290.45,562.75 289.27,566.80 288.07,570.84 286.86,574.89 285.65,578.93 284.42,582.97 283.20,587.02 281.96,591.06 280.73,595.11 279.49,599.15 278.26,603.20 277.02,607.24 275.79,611.28 274.56,615.33 273.33,619.37 272.10,623.42 270.87,627.46 269.64,631.51 268.41,635.55 267.19,639.59 265.96,643.64 264.72,647.68 263.48,651.73 262.23,655.77 260.98,659.82 259.71,663.86 258.43,667.91 257.13,671.95 255.81,675.99 254.47,680.04 253.10,684.08 251.70,688.13 250.27,692.17 248.80,696.22 247.29,700.26 245.73,704.30 244.12,708.35 242.46,712.39 240.73,716.44 238.94,720.48 237.08,724.53 235.13,728.57 233.11,732.61 230.99,736.66 228.78,740.70 226.47,744.75 224.04,748.79 221.50,752.84 218.84,756.88 216.04,760.92 213.11,764.97 210.03,769.01 206.79,773.06 203.39,777.10 199.82,781.15 196.06,785.19 192.12,789.23 187.97,793.28 183.62,797.32 179.05,801.37 174.25,805.41 169.22,809.46 163.93,813.50" fill="none" stroke="#000" stroke-width="2"/>
<polyline points="270.00,809.96 273.78,809.27 277.55,808.52 281.33,807.71 285.10,806.84 288.88,805.92 292.65,804.93 296.43,803.89 300.20,802.78 303.98,801.62 307.76,800.40 311.53,799.11 315.31,797.77 319.08,796.37 322.86,794.91 326.63,793.39 330.41,791.81 334.18,790.18 337.96,788.48 341.73,786.72 345.51,784.91 349.29,783.04 353.06,781.10 356.84,779.11 360.61,777.06 364.39,774.95 368.16,772.78 371.94,770.55 375.71,768.26 379.49,765.91 383.27,763.50 387.04,761.03 390.82,758.51 394.59,755.92 398.37,753.28 402.14,750.58 405.92,747.81 409.69,744.99 413.47,742.11 417.24,739.17 421.02,736.17 424.80,733.11 428.57,729.99 432.35,726.82 436.12,723.58 439.90,720.28 443.67,716.93 447.45,713.51 451.22,710.04 455.00,706.51" fill="none" stroke="#000" stroke-width="2"/>
</g>
<g clip-path="url(#c4)">
<polyline points="759.35,494.00 758.72,498.04 758.07,502.09 757.42,506.13 756.75,510.18 756.08,514.22 755.39,518.27 754.70,522.31 753.99,526.35 753.28,530.40 752.56,534.44 751.83,538.49 751.10,542.53 750.36,546.58 749.62,550.62 748.87,554.66 748.11,558.71 747.35,562.75 746.58,566.80 745.81,570.84 745.03,574.89 744.25,578.93 743.47,582.97 742.68,587.02 741.88,591.06 741.08,595.11 740.27,599.15 739.46,603.20 738.64,607.24 737.81,611.28 736.98,615.33 736.14,619.37 735.29,623.42 734.44,627.46 733.57,631.51 732.70,635.55 731.81,639.59 730.92,643.64 730.01,647.68 729.09,651.73 728.15,655.77 727.21,659.82 726.24,663.86 725.26,667.91 724.27,671.95 723.25,675.99 722.21,680.04 721.16,684.08 720.08,688.13 718.98,692.17 717.85,696.22 716.70,700.26 715.52,704.30 714.32,708.35 713.08,712.39 711.81,716.44 710.51,720.48 709.17,724.53 707.79,728.57 706.38,732.61 704.93,736.66 703.43,740.70 701.89,744.75 700.31,748.79 698.68,752.84 697.00,756.88 695.26,760.92 693.48,764.97 691.63,769.01 689.73,773.06 687.77,777.10 685.75,781.15 683.66,785.19 681.50,789.23 679.28,793.28 676.98,797.32 674.61,801.37 672.16,805.41 669.63,809.46 667.02,813.50" fill="none" stroke="#000" stroke-width="2.6"/>
<polyline points="844.24,494.00 843.64,498.04 843.01,502.09 842.36,506.13 841.68,510.18 840.99,514.22 840.29,518.27 839.56,522.31 838.82,526.35 838.06,530.40 837.28,534.44 836.49,538.49 835.69,542.53 834.87,546.58 834.03,550.62 833.18,554.66 832.32,558.71 831.44,562.75 830.55,566.80 829.65,570.84 828.73,574.89 827.79,578.93 826.84,582.97 825.88,587.02 824.90,591.06 823.91,595.11 822.90,599.15 821.87,603.20 820.82,607.24 819.76,611.28 818.68,615.33 817.57,619.37 816.45,623.42 815.31,627.46 814.14,631.51 812.95,635.55 811.74,639.59 810.50,643.64 809.23,647.68 807.93,651.73 806.60,655.77 805.25,659.82 803.86,663.86 802.43,667.91 800.97,671.95 799.47,675.99 797.93,680.04 796.35,684.08 794.73,688.13 793.06,692.17 791.35,696.22 789.59,700.26 787.77,704.30 785.90,708.35 783.98,712.39 781.99,716.44 779.95,720.48 777.84,724.53 775.67,728.57 773.43,732.61 771.12,736.66 768.73,740.70 766.27,744.75 763.73,748.79 761.11,752.84 758.40,756.88 755.61,760.92 752.72,764.97 749.74,769.01 746.66,773.06 743.49,777.10 740.20,781.15 736.81,785.19 733.31,789.23 729.70,793.28 725.97,797.32 722.11,801.37 718.13,805.41 714.02,809.46 709.78,813.50" fill="none" stroke="#000" stroke-width="2.6"/>
</g>
<path d="M648 766.0h6M648 706.6h6M648 647.3h6M648 588.0h6M648 528.6h6M703.0 808.5v-6M773.9 808.5v-6M844.8 808.5v-6M915.7 808.5v-6M986.6 808.5v-6" stroke="#000" stroke-width="1.6" fill="none"/>
<path d="M145.5 74h11.0M151 68.5v11.0M145.5 117h11.0M151 111.5v11.0M166.5 111h11.0M172 105.5v11.0M171.5 105h11.0M177 99.5v11.0M166.5 134h11.0M172 128.5v11.0M194.5 128h11.0M200 122.5v11.0M137.5 160h11.0M143 154.5v11.0M152.5 158h11.0M158 152.5v11.0M171.5 161h11.0M177 155.5v11.0M197.5 162h11.0M203 156.5v11.0M206.5 164h11.0M212 158.5v11.0M139.5 166h11.0M145 160.5v11.0M153.5 164h11.0M159 158.5v11.0M152.5 170h11.0M158 164.5v11.0M165.5 171h11.0M171 165.5v11.0M178.5 169h11.0M184 163.5v11.0M123.5 178h11.0M129 172.5v11.0M132.5 185h11.0M138 179.5v11.0M144.5 184h11.0M150 178.5v11.0M154.5 185h11.0M160 179.5v11.0M160.5 187h11.0M166 181.5v11.0M172.5 179h11.0M178 173.5v11.0M174.5 181h11.0M180 175.5v11.0M184.5 180h11.0M190 174.5v11.0M188.5 180h11.0M194 174.5v11.0M194.5 176h11.0M200 170.5v11.0M149.5 199h11.0M155 193.5v11.0M157.5 195h11.0M163 189.5v11.0M164.5 193h11.0M170 187.5v11.0M169.5 200h11.0M175 194.5v11.0M156.5 204h11.0M162 198.5v11.0M133.5 210h11.0M139 204.5v11.0M139.5 212h11.0M145 206.5v11.0M149.5 210h11.0M155 204.5v11.0M160.5 210h11.0M166 204.5v11.0M166.5 210h11.0M172 204.5v11.0M136.5 218h11.0M142 212.5v11.0M144.5 216h11.0M150 210.5v11.0M154.5 216h11.0M160 210.5v11.0M162.5 219h11.0M168 213.5v11.0M128.5 225h11.0M134 219.5v11.0M139.5 225h11.0M145 219.5v11.0M150.5 224h11.0M156 218.5v11.0M160.5 227h11.0M166 221.5v11.0M166.5 225h11.0M172 219.5v11.0M132.5 233h11.0M138 227.5v11.0M141.5 232h11.0M147 226.5v11.0M152.5 233h11.0M158 227.5v11.0M162.5 234h11.0M168 228.5v11.0M114.5 238h11.0M120 232.5v11.0M182.5 229h11.0M188 223.5v11.0M182.5 235h11.0M188 229.5v11.0M196.5 224h11.0M202 218.5v11.0M197.5 229h11.0M203 223.5v11.0M220.5 223h11.0M226 217.5v11.0M104.5 259h11.0M110 253.5v11.0M122.5 256h11.0M128 250.5v11.0M132.5 261h11.0M138 255.5v11.0M129.5 235h11.0M135 229.5v11.0M134.5 241h11.0M140 235.5v11.0M141.5 236h11.0M147 230.5v11.0M144.5 248h11.0M150 242.5v11.0M141.5 256h11.0M147 250.5v11.0M150.5 243h11.0M156 237.5v11.0M154.5 251h11.0M160 245.5v11.0M158.5 241h11.0M164 235.5v11.0M160.5 249h11.0M166 243.5v11.0M164.5 236h11.0M170 230.5v11.0M162.5 258h11.0M168 252.5v11.0M149.5 264h11.0M155 258.5v11.0M151.5 270h11.0M157 264.5v11.0M147.5 273h11.0M153 267.5v11.0M158.5 265h11.0M164 259.5v11.0M164.5 267h11.0M170 261.5v11.0M167.5 262h11.0M173 256.5v11.0M166.5 273h11.0M172 267.5v11.0M179.5 265h11.0M185 259.5v11.0M183.5 234h11.0M189 228.5v11.0M197.5 231h11.0M203 225.5v11.0M124.5 275h11.0M130 269.5v11.0M128.5 279h11.0M134 273.5v11.0M128.5 295h11.0M134 289.5v11.0M151.5 287h11.0M157 281.5v11.0M147.5 303h11.0M153 297.5v11.0M149.5 311h11.0M155 305.5v11.0M133.5 330h11.0M139 324.5v11.0M170.5 286h11.0M176 280.5v11.0M177.5 278h11.0M183 272.5v11.0M183.5 283h11.0M189 277.5v11.0M187.5 276h11.0M193 270.5v11.0M169.5 286h11.0M175 280.5v11.0M207.5 297h11.0M213 291.5v11.0M229.5 277h11.0M235 271.5v11.0M252.5 266h11.0M258 260.5v11.0M255.5 265h11.0M261 259.5v11.0M266.5 244h11.0M272 238.5v11.0M266.5 280h11.0M272 274.5v11.0M133.5 235h11.0M139 229.5v11.0M134.5 241h11.0M140 235.5v11.0M142.5 249h11.0M148 243.5v11.0M124.5 256h11.0M130 250.5v11.0M132.5 260h11.0M138 254.5v11.0M140.5 256h11.0M146 250.5v11.0M125.5 274h11.0M131 268.5v11.0M128.5 279h11.0M134 273.5v11.0M151.5 262h11.0M157 256.5v11.0M150.5 272h11.0M156 266.5v11.0M168.5 262h11.0M174 256.5v11.0M165.5 272h11.0M171 266.5v11.0M132.5 185h11.0M138 179.5v11.0M144.5 185h11.0M150 179.5v11.0M155.5 187h11.0M161 181.5v11.0M148.5 199h11.0M154 193.5v11.0M170.5 200h11.0M176 194.5v11.0M133.5 209h11.0M139 203.5v11.0M137.5 209h11.0M143 203.5v11.0M145.5 210h11.0M151 204.5v11.0M168.5 210h11.0M174 204.5v11.0M129.5 224h11.0M135 218.5v11.0M136.5 216h11.0M142 210.5v11.0M152.5 188h11.0M158 182.5v11.0M160.5 188h11.0M166 182.5v11.0M153.5 197h11.0M159 191.5v11.0M161.5 197h11.0M167 191.5v11.0M154.5 206h11.0M160 200.5v11.0M162.5 206h11.0M168 200.5v11.0M155.5 215h11.0M161 209.5v11.0M163.5 215h11.0M169 209.5v11.0M152.5 224h11.0M158 218.5v11.0M160.5 224h11.0M166 218.5v11.0M153.5 233h11.0M159 227.5v11.0M161.5 233h11.0M167 227.5v11.0M154.5 242h11.0M160 236.5v11.0M162.5 242h11.0M168 236.5v11.0M155.5 251h11.0M161 245.5v11.0M163.5 251h11.0M169 245.5v11.0M152.5 260h11.0M158 254.5v11.0M160.5 260h11.0M166 254.5v11.0M153.5 269h11.0M159 263.5v11.0M161.5 269h11.0M167 263.5v11.0M148.5 237h11.0M154 231.5v11.0M164.5 228h11.0M170 222.5v11.0M150.5 239h11.0M156 233.5v11.0M139.5 232h11.0M145 226.5v11.0M154.5 259h11.0M160 253.5v11.0M136.5 213h11.0M142 207.5v11.0M157.5 188h11.0M163 182.5v11.0M155.5 242h11.0M161 236.5v11.0M151.5 190h11.0M157 184.5v11.0M139.5 207h11.0M145 201.5v11.0M134.5 228h11.0M140 222.5v11.0M148.5 263h11.0M154 257.5v11.0M151.5 244h11.0M157 238.5v11.0M150.5 246h11.0M156 240.5v11.0M149.5 210h11.0M155 204.5v11.0M162.5 251h11.0M168 245.5v11.0M144.5 206h11.0M150 200.5v11.0M159.5 222h11.0M165 216.5v11.0M162.5 220h11.0M168 214.5v11.0M166.5 264h11.0M172 258.5v11.0M164.5 228h11.0M170 222.5v11.0M135.5 243h11.0M141 237.5v11.0" stroke="#000" stroke-width="2" fill="none" shape-rendering="crispEdges"/>
<g fill="none" stroke="#000" stroke-width="2"><circle cx="822" cy="99" r="5"/><circle cx="795" cy="125" r="5"/><circle cx="786" cy="130" r="5"/><circle cx="788" cy="135" r="5"/><circle cx="789" cy="139" r="5"/><circle cx="782" cy="144" r="5"/><circle cx="788" cy="143" r="5"/><circle cx="804" cy="137" r="5"/><circle cx="736" cy="158" r="5"/><circle cx="756" cy="164" r="5"/><circle cx="766" cy="160" r="5"/><circle cx="780" cy="163" r="5"/><circle cx="776" cy="169" r="5"/><circle cx="788" cy="171" r="5"/><circle cx="760" cy="170" r="5"/><circle cx="724" cy="162" r="5"/><circle cx="725" cy="169" r="5"/><circle cx="722" cy="181" r="5"/><circle cx="754" cy="174" r="5"/><circle cx="771" cy="171" r="5"/><circle cx="776" cy="169" r="5"/><circle cx="787" cy="174" r="5"/><circle cx="778" cy="177" r="5"/><circle cx="752" cy="186" r="5"/><circle cx="772" cy="183" r="5"/><circle cx="784" cy="190" r="5"/><circle cx="787" cy="190" r="5"/><circle cx="784" cy="196" r="5"/><circle cx="765" cy="197" r="5"/><circle cx="769" cy="193" r="5"/><circle cx="737" cy="190" r="5"/><circle cx="742" cy="196" r="5"/><circle cx="746" cy="200" r="5"/><circle cx="730" cy="211" r="5"/><circle cx="725" cy="220" r="5"/><circle cx="735" cy="216" r="5"/><circle cx="741" cy="210" r="5"/><circle cx="748" cy="206" r="5"/><circle cx="754" cy="210" r="5"/><circle cx="759" cy="214" r="5"/><circle cx="766" cy="216" r="5"/><circle cx="750" cy="219" r="5"/><circle cx="743" cy="225" r="5"/><circle cx="754" cy="227" r="5"/><circle cx="762" cy="228" r="5"/><circle cx="778" cy="224" r="5"/><circle cx="781" cy="225" r="5"/><circle cx="794" cy="232" r="5"/><circle cx="705" cy="228" r="5"/><circle cx="709" cy="233" r="5"/><circle cx="717" cy="231" r="5"/><circle cx="735" cy="233" r="5"/><circle cx="741" cy="235" r="5"/><circle cx="765" cy="235" r="5"/><circle cx="773" cy="234" r="5"/><circle cx="691" cy="266" r="5"/><circle cx="686" cy="274" r="5"/><circle cx="687" cy="299" r="5"/><circle cx="700" cy="243" r="5"/><circle cx="703" cy="235" r="5"/><circle cx="700" cy="252" r="5"/><circle cx="728" cy="275" r="5"/><circle cx="738" cy="283" r="5"/><circle cx="746" cy="267" r="5"/><circle cx="755" cy="266" r="5"/><circle cx="757" cy="252" r="5"/><circle cx="768" cy="258" r="5"/><circle cx="770" cy="246" r="5"/><circle cx="762" cy="283" r="5"/><circle cx="748" cy="302" r="5"/><circle cx="724" cy="310" r="5"/><circle cx="715" cy="289" r="5"/><circle cx="703" cy="278" r="5"/><circle cx="698" cy="287" r="5"/><circle cx="692" cy="291" r="5"/><circle cx="667" cy="318" r="5"/><circle cx="678" cy="318" r="5"/><circle cx="693" cy="301" r="5"/><circle cx="694" cy="311" r="5"/><circle cx="697" cy="310" r="5"/><circle cx="694" cy="329" r="5"/><circle cx="689" cy="384" r="5"/><circle cx="764" cy="378" r="5"/><circle cx="716" cy="291" r="5"/><circle cx="737" cy="282" r="5"/><circle cx="761" cy="283" r="5"/><circle cx="890" cy="164" r="5"/><circle cx="855" cy="184" r="5"/><circle cx="817" cy="225" r="5"/><circle cx="826" cy="257" r="5"/><circle cx="794" cy="232" r="5"/><circle cx="789" cy="269" r="5"/><circle cx="783" cy="239" r="5"/><circle cx="782" cy="254" r="5"/><circle cx="777" cy="224" r="5"/><circle cx="787" cy="174" r="5"/><circle cx="786" cy="191" r="5"/><circle cx="766" cy="161" r="5"/><circle cx="769" cy="183" r="5"/><circle cx="766" cy="197" r="5"/><circle cx="765" cy="217" r="5"/><circle cx="769" cy="240" r="5"/><circle cx="768" cy="256" r="5"/><circle cx="763" cy="282" r="5"/><circle cx="783" cy="195" r="5"/><circle cx="803" cy="137" r="5"/><circle cx="700" cy="249" r="5"/><circle cx="704" cy="230" r="5"/><circle cx="751" cy="218" r="5"/><circle cx="724" cy="229" r="5"/><circle cx="728" cy="255" r="5"/><circle cx="712" cy="283" r="5"/><circle cx="742" cy="222" r="5"/><circle cx="744" cy="220" r="5"/><circle cx="733" cy="219" r="5"/><circle cx="694" cy="280" r="5"/><circle cx="728" cy="264" r="5"/><circle cx="707" cy="285" r="5"/><circle cx="750" cy="233" r="5"/><circle cx="717" cy="222" r="5"/><circle cx="713" cy="258" r="5"/><circle cx="715" cy="234" r="5"/><circle cx="746" cy="248" r="5"/><circle cx="714" cy="248" r="5"/><circle cx="738" cy="214" r="5"/><circle cx="695" cy="273" r="5"/><circle cx="717" cy="256" r="5"/><circle cx="705" cy="286" r="5"/><circle cx="706" cy="270" r="5"/><circle cx="716" cy="238" r="5"/><circle cx="701" cy="270" r="5"/><circle cx="696" cy="286" r="5"/><circle cx="728" cy="234" r="5"/><circle cx="720" cy="228" r="5"/><circle cx="723" cy="243" r="5"/><circle cx="698" cy="283" r="5"/><circle cx="747" cy="220" r="5"/><circle cx="703" cy="277" r="5"/><circle cx="713" cy="246" r="5"/><circle cx="724" cy="233" r="5"/><circle cx="719" cy="221" r="5"/><circle cx="725" cy="236" r="5"/><circle cx="717" cy="273" r="5"/><circle cx="717" cy="266" r="5"/><circle cx="712" cy="248" r="5"/><circle cx="713" cy="286" r="5"/><circle cx="735" cy="256" r="5"/><circle cx="710" cy="263" r="5"/><circle cx="716" cy="261" r="5"/><circle cx="727" cy="252" r="5"/><circle cx="704" cy="277" r="5"/><circle cx="740" cy="223" r="5"/><circle cx="736" cy="243" r="5"/><circle cx="722" cy="262" r="5"/><circle cx="708" cy="265" r="5"/><circle cx="734" cy="212" r="5"/><circle cx="724" cy="227" r="5"/><circle cx="723" cy="240" r="5"/><circle cx="733" cy="257" r="5"/><circle cx="709" cy="282" r="5"/><circle cx="712" cy="242" r="5"/><circle cx="701" cy="276" r="5"/><circle cx="733" cy="217" r="5"/><circle cx="728" cy="236" r="5"/><circle cx="746" cy="243" r="5"/><circle cx="732" cy="255" r="5"/><circle cx="732" cy="237" r="5"/><circle cx="733" cy="220" r="5"/><circle cx="718" cy="244" r="5"/><circle cx="708" cy="233" r="5"/><circle cx="755" cy="240" r="5"/><circle cx="732" cy="230" r="5"/><circle cx="720" cy="235" r="5"/><circle cx="712" cy="248" r="5"/><circle cx="702" cy="259" r="5"/><circle cx="722" cy="233" r="5"/><circle cx="711" cy="285" r="5"/><circle cx="743" cy="229" r="5"/><circle cx="756" cy="233" r="5"/><circle cx="732" cy="247" r="5"/><circle cx="735" cy="258" r="5"/><circle cx="741" cy="219" r="5"/><circle cx="742" cy="233" r="5"/><circle cx="728" cy="236" r="5"/><circle cx="713" cy="252" r="5"/><circle cx="723" cy="238" r="5"/><circle cx="695" cy="272" r="5"/><circle cx="721" cy="256" r="5"/><circle cx="718" cy="241" r="5"/><circle cx="748" cy="225" r="5"/><circle cx="713" cy="276" r="5"/><circle cx="698" cy="277" r="5"/><circle cx="738" cy="244" r="5"/><circle cx="712" cy="272" r="5"/><circle cx="751" cy="221" r="5"/><circle cx="724" cy="253" r="5"/><circle cx="725" cy="236" r="5"/><circle cx="704" cy="256" r="5"/><circle cx="745" cy="215" r="5"/><circle cx="708" cy="275" r="5"/><circle cx="696" cy="268" r="5"/><circle cx="738" cy="213" r="5"/><circle cx="747" cy="227" r="5"/><circle cx="739" cy="220" r="5"/><circle cx="712" cy="283" r="5"/><circle cx="703" cy="258" r="5"/><circle cx="720" cy="222" r="5"/><circle cx="733" cy="213" r="5"/><circle cx="749" cy="220" r="5"/><circle cx="721" cy="234" r="5"/><circle cx="732" cy="249" r="5"/><circle cx="753" cy="239" r="5"/><circle cx="698" cy="265" r="5"/><circle cx="704" cy="260" r="5"/><circle cx="729" cy="259" r="5"/><circle cx="711" cy="254" r="5"/><circle cx="710" cy="270" r="5"/><circle cx="727" cy="220" r="5"/><circle cx="709" cy="239" r="5"/><circle cx="740" cy="224" r="5"/><circle cx="699" cy="263" r="5"/><circle cx="731" cy="228" r="5"/><circle cx="714" cy="274" r="5"/><circle cx="696" cy="268" r="5"/><circle cx="746" cy="220" r="5"/><circle cx="733" cy="238" r="5"/><circle cx="709" cy="236" r="5"/><circle cx="733" cy="237" r="5"/><circle cx="745" cy="244" r="5"/><circle cx="731" cy="255" r="5"/><circle cx="741" cy="241" r="5"/><circle cx="733" cy="244" r="5"/><circle cx="723" cy="217" r="5"/><circle cx="718" cy="240" r="5"/><circle cx="749" cy="221" r="5"/><circle cx="710" cy="231" r="5"/><circle cx="709" cy="248" r="5"/><circle cx="696" cy="284" r="5"/><circle cx="701" cy="263" r="5"/><circle cx="712" cy="264" r="5"/><circle cx="740" cy="222" r="5"/><circle cx="717" cy="234" r="5"/><circle cx="723" cy="232" r="5"/><circle cx="735" cy="244" r="5"/><circle cx="698" cy="272" r="5"/></g>
<path d="M283.3 525.3h11.4l-5.7 8.3zM288.3 525.3h11.4l-5.7 8.3zM226.3 597.3h11.4l-5.7 8.3zM222.3 603.3h11.4l-5.7 8.3zM227.3 610.3h11.4l-5.7 8.3zM239.3 615.3h11.4l-5.7 8.3zM256.3 586.3h11.4l-5.7 8.3zM268.3 590.3h11.4l-5.7 8.3zM272.3 596.3h11.4l-5.7 8.3zM312.3 586.3h11.4l-5.7 8.3zM311.3 596.3h11.4l-5.7 8.3zM269.3 617.3h11.4l-5.7 8.3zM286.3 621.3h11.4l-5.7 8.3zM295.3 622.3h11.4l-5.7 8.3zM242.3 632.3h11.4l-5.7 8.3zM253.3 631.3h11.4l-5.7 8.3zM261.3 633.3h11.4l-5.7 8.3zM248.3 650.3h11.4l-5.7 8.3zM224.3 659.3h11.4l-5.7 8.3zM229.3 668.3h11.4l-5.7 8.3zM246.3 667.3h11.4l-5.7 8.3zM342.3 590.3h11.4l-5.7 8.3zM350.3 612.3h11.4l-5.7 8.3zM348.3 622.3h11.4l-5.7 8.3zM356.3 616.3h11.4l-5.7 8.3zM332.3 628.3h11.4l-5.7 8.3zM361.3 648.3h11.4l-5.7 8.3zM360.3 660.3h11.4l-5.7 8.3zM358.3 672.3h11.4l-5.7 8.3zM336.3 673.3h11.4l-5.7 8.3zM340.3 646.3h11.4l-5.7 8.3zM328.3 642.3h11.4l-5.7 8.3zM311.3 646.3h11.4l-5.7 8.3zM300.3 653.3h11.4l-5.7 8.3zM320.3 655.3h11.4l-5.7 8.3zM309.3 663.3h11.4l-5.7 8.3zM300.3 670.3h11.4l-5.7 8.3zM247.3 719.3h11.4l-5.7 8.3zM291.3 731.3h11.4l-5.7 8.3zM312.3 738.3h11.4l-5.7 8.3zM287.3 745.3h11.4l-5.7 8.3zM303.3 698.3h11.4l-5.7 8.3zM326.3 709.3h11.4l-5.7 8.3zM338.3 714.3h11.4l-5.7 8.3zM351.3 710.3h11.4l-5.7 8.3zM321.3 692.3h11.4l-5.7 8.3zM335.3 691.3h11.4l-5.7 8.3zM335.3 696.3h11.4l-5.7 8.3zM339.3 674.3h11.4l-5.7 8.3zM346.3 682.3h11.4l-5.7 8.3zM354.3 693.3h11.4l-5.7 8.3zM240.3 702.3h11.4l-5.7 8.3zM265.3 710.3h11.4l-5.7 8.3zM279.3 711.3h11.4l-5.7 8.3zM260.3 695.3h11.4l-5.7 8.3zM276.3 701.3h11.4l-5.7 8.3zM224.3 716.3h11.4l-5.7 8.3zM211.3 736.3h11.4l-5.7 8.3zM206.3 761.3h11.4l-5.7 8.3zM219.3 701.3h11.4l-5.7 8.3zM274.3 770.3h11.4l-5.7 8.3zM277.3 779.3h11.4l-5.7 8.3zM259.3 798.3h11.4l-5.7 8.3zM342.3 591.3h11.4l-5.7 8.3zM439.3 595.3h11.4l-5.7 8.3zM412.3 608.3h11.4l-5.7 8.3zM350.3 611.3h11.4l-5.7 8.3zM353.3 616.3h11.4l-5.7 8.3zM347.3 623.3h11.4l-5.7 8.3zM374.3 616.3h11.4l-5.7 8.3zM370.3 620.3h11.4l-5.7 8.3zM383.3 635.3h11.4l-5.7 8.3zM398.3 638.3h11.4l-5.7 8.3zM381.3 645.3h11.4l-5.7 8.3zM363.3 648.3h11.4l-5.7 8.3zM388.3 656.3h11.4l-5.7 8.3zM397.3 657.3h11.4l-5.7 8.3zM361.3 660.3h11.4l-5.7 8.3zM371.3 660.3h11.4l-5.7 8.3zM358.3 670.3h11.4l-5.7 8.3zM378.3 670.3h11.4l-5.7 8.3zM339.3 627.3h11.4l-5.7 8.3zM339.3 645.3h11.4l-5.7 8.3zM339.3 651.3h11.4l-5.7 8.3zM339.3 674.3h11.4l-5.7 8.3zM344.3 682.3h11.4l-5.7 8.3zM354.3 692.3h11.4l-5.7 8.3zM362.3 695.3h11.4l-5.7 8.3zM210.3 680.3h11.4l-5.7 8.3zM227.3 681.3h11.4l-5.7 8.3zM230.3 690.3h11.4l-5.7 8.3zM215.3 696.3h11.4l-5.7 8.3zM246.3 668.3h11.4l-5.7 8.3zM262.3 635.3h11.4l-5.7 8.3zM284.3 638.3h11.4l-5.7 8.3zM286.3 639.3h11.4l-5.7 8.3zM292.3 629.3h11.4l-5.7 8.3zM279.3 643.3h11.4l-5.7 8.3zM284.3 632.3h11.4l-5.7 8.3zM299.3 636.3h11.4l-5.7 8.3zM296.3 637.3h11.4l-5.7 8.3zM292.3 631.3h11.4l-5.7 8.3zM269.3 680.3h11.4l-5.7 8.3zM265.3 674.3h11.4l-5.7 8.3zM270.3 642.3h11.4l-5.7 8.3zM273.3 667.3h11.4l-5.7 8.3zM257.3 640.3h11.4l-5.7 8.3zM276.3 661.3h11.4l-5.7 8.3zM271.3 680.3h11.4l-5.7 8.3zM271.3 682.3h11.4l-5.7 8.3zM260.3 677.3h11.4l-5.7 8.3zM262.3 683.3h11.4l-5.7 8.3zM277.3 644.3h11.4l-5.7 8.3zM252.3 649.3h11.4l-5.7 8.3zM280.3 659.3h11.4l-5.7 8.3zM268.3 653.3h11.4l-5.7 8.3zM264.3 657.3h11.4l-5.7 8.3zM259.3 666.3h11.4l-5.7 8.3zM267.3 681.3h11.4l-5.7 8.3zM270.3 683.3h11.4l-5.7 8.3zM276.3 686.3h11.4l-5.7 8.3zM270.3 647.3h11.4l-5.7 8.3zM276.3 684.3h11.4l-5.7 8.3zM278.3 666.3h11.4l-5.7 8.3zM322.3 649.3h11.4l-5.7 8.3zM325.3 658.3h11.4l-5.7 8.3zM313.3 646.3h11.4l-5.7 8.3zM326.3 668.3h11.4l-5.7 8.3zM308.3 663.3h11.4l-5.7 8.3zM315.3 648.3h11.4l-5.7 8.3zM313.3 662.3h11.4l-5.7 8.3zM326.3 645.3h11.4l-5.7 8.3zM320.3 645.3h11.4l-5.7 8.3zM323.3 652.3h11.4l-5.7 8.3zM319.3 687.3h11.4l-5.7 8.3zM289.3 688.3h11.4l-5.7 8.3zM274.3 660.3h11.4l-5.7 8.3zM297.3 659.3h11.4l-5.7 8.3zM265.3 670.3h11.4l-5.7 8.3zM298.3 663.3h11.4l-5.7 8.3zM252.3 684.3h11.4l-5.7 8.3zM274.3 687.3h11.4l-5.7 8.3zM321.3 669.3h11.4l-5.7 8.3zM286.3 674.3h11.4l-5.7 8.3zM301.3 676.3h11.4l-5.7 8.3zM294.3 677.3h11.4l-5.7 8.3zM324.3 673.3h11.4l-5.7 8.3zM283.3 680.3h11.4l-5.7 8.3zM268.3 667.3h11.4l-5.7 8.3zM327.3 674.3h11.4l-5.7 8.3zM293.3 658.3h11.4l-5.7 8.3zM282.3 675.3h11.4l-5.7 8.3zM258.3 686.3h11.4l-5.7 8.3zM281.3 668.3h11.4l-5.7 8.3zM261.3 695.3h11.4l-5.7 8.3zM290.3 671.3h11.4l-5.7 8.3zM275.3 648.3h11.4l-5.7 8.3zM279.3 634.3h11.4l-5.7 8.3zM289.3 648.3h11.4l-5.7 8.3zM252.3 656.3h11.4l-5.7 8.3zM274.3 638.3h11.4l-5.7 8.3zM258.3 697.3h11.4l-5.7 8.3zM272.3 674.3h11.4l-5.7 8.3zM267.3 669.3h11.4l-5.7 8.3zM292.3 648.3h11.4l-5.7 8.3zM288.3 646.3h11.4l-5.7 8.3zM287.3 692.3h11.4l-5.7 8.3zM278.3 689.3h11.4l-5.7 8.3zM256.3 668.3h11.4l-5.7 8.3zM291.3 645.3h11.4l-5.7 8.3zM270.3 659.3h11.4l-5.7 8.3zM272.3 660.3h11.4l-5.7 8.3zM274.3 669.3h11.4l-5.7 8.3zM277.3 691.3h11.4l-5.7 8.3zM261.3 679.3h11.4l-5.7 8.3zM277.3 680.3h11.4l-5.7 8.3zM259.3 642.3h11.4l-5.7 8.3zM267.3 706.3h11.4l-5.7 8.3zM267.3 678.3h11.4l-5.7 8.3zM265.3 637.3h11.4l-5.7 8.3zM288.3 659.3h11.4l-5.7 8.3zM283.3 685.3h11.4l-5.7 8.3zM258.3 692.3h11.4l-5.7 8.3zM269.3 705.3h11.4l-5.7 8.3zM262.3 692.3h11.4l-5.7 8.3zM264.3 706.3h11.4l-5.7 8.3zM262.3 706.3h11.4l-5.7 8.3zM277.3 692.3h11.4l-5.7 8.3zM273.3 699.3h11.4l-5.7 8.3zM270.3 712.3h11.4l-5.7 8.3zM322.3 705.3h11.4l-5.7 8.3zM327.3 718.3h11.4l-5.7 8.3zM332.3 715.3h11.4l-5.7 8.3zM322.3 711.3h11.4l-5.7 8.3zM340.3 711.3h11.4l-5.7 8.3z" stroke="#000" stroke-width="2.3" fill="none" stroke-linejoin="miter"/>
<rect x="110" y="75" width="335" height="310" fill="none" stroke="#000" stroke-width="2"/>
<rect x="648" y="75" width="335" height="310" fill="none" stroke="#000" stroke-width="2"/>
<rect x="110" y="499" width="335" height="309.5" fill="none" stroke="#000" stroke-width="2"/>
<rect x="648" y="499" width="392" height="309.5" fill="none" stroke="#000" stroke-width="2"/>
<rect x="465" y="75.00" width="30" height="62.30" fill="#ff0000"/>
<rect x="465" y="137.00" width="30" height="62.30" fill="#ff4141"/>
<rect x="465" y="199.00" width="30" height="62.30" fill="#da8884"/>
<rect x="465" y="261.00" width="30" height="62.30" fill="#ffbcc6"/>
<rect x="465" y="323.00" width="30" height="62.30" fill="#fffaf0"/>
<path d="M465 137.0h3M495 137.0h-3M465 199.0h3M495 199.0h-3M465 261.0h3M495 261.0h-3M465 323.0h3M495 323.0h-3" stroke="#000" stroke-width="2"/>
<rect x="465" y="75" width="30" height="310" fill="none" stroke="#000" stroke-width="2"/>
<rect x="1003" y="75.00" width="29" height="62.30" fill="#ff0000"/>
<rect x="1003" y="137.00" width="29" height="62.30" fill="#ff4141"/>
<rect x="1003" y="199.00" width="29" height="62.30" fill="#da8884"/>
<rect x="1003" y="261.00" width="29" height="62.30" fill="#ffbcc6"/>
<rect x="1003" y="323.00" width="29" height="62.30" fill="#fffaf0"/>
<path d="M1003 137.0h3M1032 137.0h-3M1003 199.0h3M1032 199.0h-3M1003 261.0h3M1032 261.0h-3M1003 323.0h3M1032 323.0h-3" stroke="#000" stroke-width="2"/>
<rect x="1003" y="75" width="29" height="310" fill="none" stroke="#000" stroke-width="2"/>
<rect x="465" y="499.00" width="29.5" height="62.20" fill="#ff0000"/>
<rect x="465" y="560.90" width="29.5" height="62.20" fill="#ff4141"/>
<rect x="465" y="622.80" width="29.5" height="62.20" fill="#da8884"/>
<rect x="465" y="684.70" width="29.5" height="62.20" fill="#ffbcc6"/>
<rect x="465" y="746.60" width="29.5" height="62.20" fill="#fffaf0"/>
<path d="M465 560.9h3M494.5 560.9h-3M465 622.8h3M494.5 622.8h-3M465 684.7h3M494.5 684.7h-3M465 746.6h3M494.5 746.6h-3" stroke="#000" stroke-width="2"/>
<rect x="465" y="499" width="29.5" height="309.5" fill="none" stroke="#000" stroke-width="2"/>
<text x="139" y="59" textLength="281" lengthAdjust="spacingAndGlyphs">IAB (159/256 used, 18% error)</text>
<text x="661" y="59.5" textLength="311" lengthAdjust="spacingAndGlyphs">MORB (197/241 used, 22% error)</text>
<text x="142.5" y="483.5" textLength="274" lengthAdjust="spacingAndGlyphs">OIB (158/259 used, 9% error)</text>
<text x="730" y="483" textLength="230" lengthAdjust="spacingAndGlyphs">514/756 used, 16% error</text>
<text x="103.5" y="111.6" text-anchor="end" textLength="34" lengthAdjust="spacingAndGlyphs">500</text>
<text x="103.5" y="230.9" text-anchor="end" textLength="34" lengthAdjust="spacingAndGlyphs">300</text>
<text x="103.5" y="348.6" text-anchor="end" textLength="34" lengthAdjust="spacingAndGlyphs">100</text>
<text transform="translate(56,226) rotate(-90)" text-anchor="middle" textLength="72" lengthAdjust="spacingAndGlyphs">V (ppm)</text>
<text x="212.5" y="409.8">1</text>
<text x="332.5" y="410.6">2</text>
<text x="399.6" y="417.7">x</text>
<text x="415.8" y="417.7">10</text>
<text x="437.6" y="404.7" style="font-size:13.5px">4</text>
<text x="268.5" y="434.9" textLength="78.5" lengthAdjust="spacingAndGlyphs">Ti (ppm)</text>
<text x="641.5" y="111.6" text-anchor="end" textLength="34" lengthAdjust="spacingAndGlyphs">500</text>
<text x="641.5" y="230.9" text-anchor="end" textLength="34" lengthAdjust="spacingAndGlyphs">300</text>
<text x="641.5" y="348.6" text-anchor="end" textLength="34" lengthAdjust="spacingAndGlyphs">100</text>
<text transform="translate(594,226) rotate(-90)" text-anchor="middle" textLength="72" lengthAdjust="spacingAndGlyphs">V (ppm)</text>
<text x="750.5" y="409.8">1</text>
<text x="870.5" y="410.6">2</text>
<text x="937.6" y="417.7">x</text>
<text x="953.8" y="417.7">10</text>
<text x="975.6" y="404.7" style="font-size:13.5px">4</text>
<text x="806.5" y="434.9" textLength="78.5" lengthAdjust="spacingAndGlyphs">Ti (ppm)</text>
<text x="103.5" y="535.6" text-anchor="end" textLength="34" lengthAdjust="spacingAndGlyphs">500</text>
<text x="103.5" y="654.9" text-anchor="end" textLength="34" lengthAdjust="spacingAndGlyphs">300</text>
<text x="103.5" y="772.6" text-anchor="end" textLength="34" lengthAdjust="spacingAndGlyphs">100</text>
<text transform="translate(56,650) rotate(-90)" text-anchor="middle" textLength="72" lengthAdjust="spacingAndGlyphs">V (ppm)</text>
<text x="212.5" y="833.8">1</text>
<text x="332.5" y="834.6">2</text>
<text x="399.6" y="841.7">x</text>
<text x="415.8" y="841.7">10</text>
<text x="437.6" y="828.7" style="font-size:13.5px">4</text>
<text x="268.5" y="858.9" textLength="78.5" lengthAdjust="spacingAndGlyphs">Ti (ppm)</text>
<text x="641.5" y="535.6" text-anchor="end" textLength="34" lengthAdjust="spacingAndGlyphs">500</text>
<text x="641.5" y="654.9" text-anchor="end" textLength="34" lengthAdjust="spacingAndGlyphs">300</text>
<text x="641.5" y="772.6" text-anchor="end" textLength="34" lengthAdjust="spacingAndGlyphs">100</text>
<text transform="translate(594,650) rotate(-90)" text-anchor="middle" textLength="72" lengthAdjust="spacingAndGlyphs">V (ppm)</text>
<text x="769" y="833.5">1</text>
<text x="908.5" y="833.9">2</text>
<text x="993.0" y="841.0">x</text>
<text x="1009.2" y="841.0">10</text>
<text x="1031" y="828" style="font-size:13.5px">4</text>
<text x="836" y="859" textLength="77.5" lengthAdjust="spacingAndGlyphs">Ti (ppm)</text>
<text x="502" y="82.8">1</text>
<text x="502" y="144.8" textLength="28" lengthAdjust="spacingAndGlyphs">0.8</text>
<text x="502" y="206.8" textLength="28" lengthAdjust="spacingAndGlyphs">0.6</text>
<text x="502" y="268.8" textLength="28" lengthAdjust="spacingAndGlyphs">0.4</text>
<text x="502" y="330.8" textLength="28" lengthAdjust="spacingAndGlyphs">0.2</text>
<text x="502" y="392.8">0</text>
<text transform="translate(556,229.35) rotate(-90)" text-anchor="middle" textLength="182" lengthAdjust="spacingAndGlyphs">posterior probability</text>
<text x="1039" y="82.8" textLength="40" lengthAdjust="spacingAndGlyphs">0.89</text>
<text x="1039" y="144.8" textLength="40" lengthAdjust="spacingAndGlyphs">0.71</text>
<text x="1039" y="206.8" textLength="40" lengthAdjust="spacingAndGlyphs">0.53</text>
<text x="1039" y="268.8" textLength="40" lengthAdjust="spacingAndGlyphs">0.35</text>
<text x="1039" y="330.8" textLength="40" lengthAdjust="spacingAndGlyphs">0.18</text>
<text x="1039" y="392.8">0</text>
<text transform="translate(1100,227.35) rotate(-90)" text-anchor="middle" textLength="182" lengthAdjust="spacingAndGlyphs">posterior probability</text>
<text x="501.5" y="506.8">1</text>
<text x="501.5" y="568.7" textLength="28" lengthAdjust="spacingAndGlyphs">0.8</text>
<text x="501.5" y="630.6" textLength="28" lengthAdjust="spacingAndGlyphs">0.6</text>
<text x="501.5" y="692.5" textLength="28" lengthAdjust="spacingAndGlyphs">0.4</text>
<text x="501.5" y="754.4" textLength="28" lengthAdjust="spacingAndGlyphs">0.2</text>
<text x="501.5" y="816.3">0</text>
<text transform="translate(556,648.35) rotate(-90)" text-anchor="middle" textLength="182" lengthAdjust="spacingAndGlyphs">posterior probability</text>
<g style="font-family:'DejaVu Sans',sans-serif;font-size:19px">
<text x="674.5" y="624.8" textLength="29.5" lengthAdjust="spacingAndGlyphs" style="font-family:'DejaVu Sans';font-size:19px">IAB</text>
<text x="748.3" y="626.2" textLength="57.5" lengthAdjust="spacingAndGlyphs" style="font-family:'DejaVu Sans';font-size:19px">MORB</text>
<text x="902" y="626.2" textLength="33" lengthAdjust="spacingAndGlyphs" style="font-family:'DejaVu Sans';font-size:19px">OIB</text>
</g>
</svg></body></html>
